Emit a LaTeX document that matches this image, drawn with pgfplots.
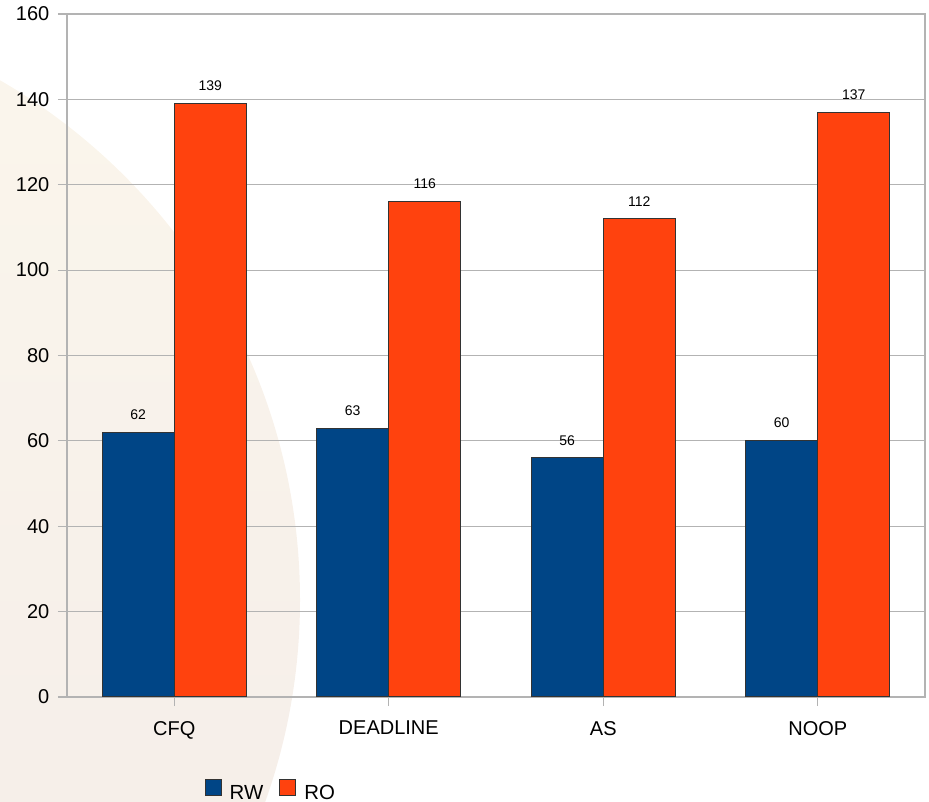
\documentclass[border=0pt]{standalone}
\usepackage{pgfplots}
\pgfplotsset{compat=1.18}
\usepackage{fontspec}
\setmainfont{Liberation Sans}
\definecolor{rwblue}{HTML}{004586}
\definecolor{roorange}{HTML}{FF420E}
\definecolor{gridgray}{HTML}{B3B3B3}
\definecolor{bgtop}{RGB}{251,246,236}
\definecolor{bgbot}{RGB}{243,235,232}
\begin{document}
\begin{tikzpicture}[x=1pt,y=1pt]
\useasboundingbox (0,0) rectangle (464.5,400.5);
\begin{scope}
\clip (0,0) rectangle (464.5,400.5);
\shade[top color=bgtop, bottom color=bgbot] (-150,100.5) circle (300);
\end{scope}
\begin{axis}[
  at={(33.5pt,52pt)}, anchor=south west,
  scale only axis, width=429pt, height=341.5pt,
  ymin=0, ymax=160, ytick={0,20,...,160},
  xmin=-0.5, xmax=3.5, xtick={0,1,2,3},
  xticklabels={CFQ,DEADLINE,AS,NOOP},
  ymajorgrids, grid style={gridgray, line width=0.6pt},
  axis line style={gridgray, line width=0.6pt},
  tick style={gridgray, line width=0.6pt},
  tick align=outside, major tick length=4.5pt,
  xtick pos=bottom, ytick pos=left,
  /pgf/number format/assume math mode=true,
  yticklabel style={font=\fontsize{10}{12}\selectfont, text=black, xshift=-0.8pt},
  xticklabel style={font=\fontsize{10}{12}\selectfont, text=black, yshift=-4pt},
  ybar, bar width=0.336,
  nodes near coords,
  every node near coord/.append style={font=\fontsize{7}{9}\selectfont, text=black, yshift=2.8pt},
  legend style={at={(0.153,-0.140)}, anchor=west, draw=none, fill=none,
    legend columns=2, font=\fontsize{10.2}{12}\selectfont,
    /tikz/every odd column/.append style={column sep=2pt},
    /tikz/every even column/.append style={column sep=6pt}},
  legend image code/.code={\draw[#1, draw=black!80, line width=0.5pt] (0pt,-1pt) rectangle (8pt,7pt);},
]
\addplot[fill=rwblue, draw=black!80, line width=0.5pt, bar shift=-0.168] coordinates {(0,62) (1,63) (2,56) (3,60)};
\addlegendentry{RW}
\addplot[fill=roorange, draw=black!80, line width=0.5pt, bar shift=0.168] coordinates {(0,139) (1,116) (2,112) (3,137)};
\addlegendentry{RO}
\end{axis}
\end{tikzpicture}
\end{document}
